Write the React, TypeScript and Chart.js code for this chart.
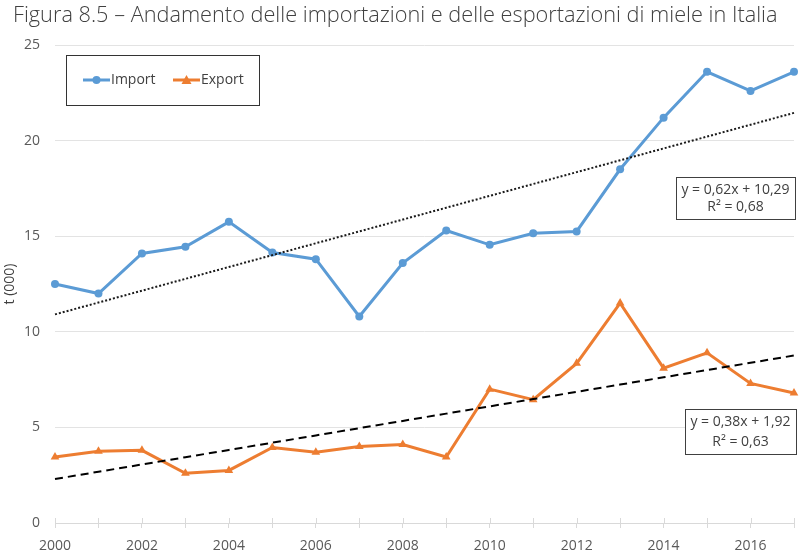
import React, { useEffect, useRef } from 'react';
import { Chart, registerables } from 'chart.js';

Chart.register(...registerables);

const TITLE = 'Figura 8.5 – Andamento delle importazioni e delle esportazioni di miele in Italia';
const Y_TITLE = 't (000)';
const years = ['2000', '2001', '2002', '2003', '2004', '2005', '2006', '2007', '2008', '2009', '2010', '2011', '2012', '2013', '2014', '2015', '2016', '2017'];
const importValues = [12.5, 12.0, 14.1, 14.45, 15.75, 14.15, 13.8, 10.8, 13.6, 15.3, 14.55, 15.15, 15.25, 18.5, 21.2, 23.6, 22.6, 23.6];
const exportValues = [3.45, 3.75, 3.8, 2.6, 2.75, 3.95, 3.7, 4.0, 4.1, 3.45, 7.0, 6.45, 8.35, 11.5, 8.1, 8.9, 7.3, 6.8];
const importTrend = [0.62, 10.29];
const exportTrend = [0.38, 1.92];
const importTrendText = ['y = 0,62x + 10,29', 'R² = 0,68'];
const exportTrendText = ['y = 0,38x + 1,92', 'R² = 0,63'];
const yTicks = [0, 5, 10, 15, 20, 25];

const IMPORT_COLOR = '#5B9BD5';
const EXPORT_COLOR = '#ED7D31';
const FONT = '"Open Sans", sans-serif';
const TEXT_COLOR = '#404040';

const trendOf = (coef: number[]) => years.map((_, i) => coef[0] * (i + 1) + coef[1]);

const decorPlugin = {
  id: 'decor',
  afterDraw(chart: any) {
    const ctx = chart.ctx;
    const area = chart.chartArea;
    const xs = chart.scales.x;
    ctx.save();

    // tick marks above the axis
    ctx.strokeStyle = '#d9d9d9';
    ctx.lineWidth = 1;
    years.forEach((_, i) => {
      const x = Math.round(xs.getPixelForValue(i)) + 0.5;
      ctx.beginPath();
      ctx.moveTo(x, area.bottom - 5);
      ctx.lineTo(x, area.bottom);
      ctx.stroke();
    });

    // title
    ctx.fillStyle = TEXT_COLOR;
    ctx.textBaseline = 'alphabetic';
    ctx.textAlign = 'left';
    ctx.font = `300 20px ${FONT}`;
    const w = ctx.measureText(TITLE).width;
    const size = 20 * 765 / w;
    ctx.font = `300 ${size}px ${FONT}`;
    ctx.fillText(TITLE, 13, 22);

    // legend
    ctx.fillStyle = '#ffffff';
    ctx.fillRect(66, 55, 193, 50);
    ctx.strokeStyle = '#333333';
    ctx.lineWidth = 1;
    ctx.strokeRect(66.5, 55.5, 193, 50);
    const items = [
      { label: 'Import', color: IMPORT_COLOR, x: 83, style: 'circle' },
      { label: 'Export', color: EXPORT_COLOR, x: 173, style: 'triangle' },
    ];
    items.forEach((it) => {
      ctx.strokeStyle = it.color;
      ctx.fillStyle = it.color;
      ctx.lineWidth = 3;
      ctx.beginPath();
      ctx.moveTo(it.x, 80);
      ctx.lineTo(it.x + 27, 80);
      ctx.stroke();
      const cx = it.x + 13.5;
      ctx.beginPath();
      if (it.style === 'circle') {
        ctx.arc(cx, 80, 4, 0, Math.PI * 2);
      } else {
        ctx.moveTo(cx, 75);
        ctx.lineTo(cx + 5, 84);
        ctx.lineTo(cx - 5, 84);
        ctx.closePath();
      }
      ctx.fill();
      ctx.fillStyle = TEXT_COLOR;
      ctx.font = `14px ${FONT}`;
      ctx.textBaseline = 'middle';
      ctx.fillText(it.label, it.x + 28, 80);
    });

    // trend equation boxes
    const boxes = [
      { x: 676, y: 177, w: 119, h: 42, lines: importTrendText, l1: 190, l2: 207 },
      { x: 685, y: 409, w: 111, h: 45, lines: exportTrendText, l1: 422, l2: 442 },
    ];
    boxes.forEach((b) => {
      ctx.fillStyle = '#ffffff';
      ctx.fillRect(b.x, b.y, b.w, b.h);
      ctx.strokeStyle = '#404040';
      ctx.lineWidth = 1;
      ctx.strokeRect(b.x + 0.5, b.y + 0.5, b.w, b.h);
      ctx.fillStyle = TEXT_COLOR;
      ctx.font = `14px ${FONT}`;
      ctx.textAlign = 'center';
      ctx.textBaseline = 'middle';
      const cx = b.x + b.w / 2;
      ctx.fillText(b.lines[0], cx, b.l1);
      ctx.fillText(b.lines[1], cx, b.l2);
    });
    ctx.restore();
  },
};

export default function App() {
  const ref = useRef<HTMLCanvasElement | null>(null);
  useEffect(() => {
    document.body.style.margin = '0';
    if (!ref.current) return;
    const chart = new Chart(ref.current, {
      type: 'line',
      data: {
        labels: years,
        datasets: [
          {
            label: 'Import',
            data: importValues,
            borderColor: IMPORT_COLOR,
            backgroundColor: IMPORT_COLOR,
            borderWidth: 3,
            pointStyle: 'circle',
            pointRadius: 4,
            pointBorderWidth: 0,
            tension: 0,
            clip: false,
            order: 2,
          },
          {
            label: 'Export',
            data: exportValues,
            borderColor: EXPORT_COLOR,
            backgroundColor: EXPORT_COLOR,
            borderWidth: 3,
            pointStyle: 'triangle',
            pointRadius: 5,
            pointBorderWidth: 0,
            tension: 0,
            clip: false,
            order: 2,
          },
          {
            label: 'Lineare (Import)',
            data: trendOf(importTrend),
            borderColor: '#1a1a1a',
            borderWidth: 2,
            borderDash: [2, 2],
            pointRadius: 0,
            order: 1,
          },
          {
            label: 'Lineare (Export)',
            data: trendOf(exportTrend),
            borderColor: '#000000',
            borderWidth: 2,
            borderDash: [8, 5],
            pointRadius: 0,
            order: 1,
          },
        ],
      },
      options: {
        responsive: false,
        animation: false,
        devicePixelRatio: 1,
        layout: { padding: { top: 45, right: 2, left: 0, bottom: 0 } },
        plugins: {
          legend: { display: false },
          title: { display: false },
          tooltip: { enabled: false },
        },
        scales: {
          x: {
            type: 'category',
            offset: false,
            grid: {
              drawOnChartArea: false,
              drawTicks: true,
              tickLength: 5,
              color: '#d9d9d9',
            },
            border: { display: true, color: '#d9d9d9', width: 1 },
            ticks: {
              autoSkip: false,
              maxRotation: 0,
              padding: 10,
              color: '#595959',
              font: { family: FONT, size: 14 },
              callback: (_v: any, i: number) => (i % 2 === 0 ? years[i] : ''),
            },
            afterFit: (s: any) => { s.height = 34; s.paddingRight = 0; s.paddingLeft = 0; },
          },
          y: {
            min: yTicks[0],
            max: yTicks[yTicks.length - 1],
            afterBuildTicks: (s: any) => { s.ticks = yTicks.map((v) => ({ value: v })); },
            grid: { color: '#e3e3e3', drawTicks: false },
            border: { display: false },
            ticks: {
              padding: 15,
              color: '#595959',
              font: { family: FONT, size: 14 },
            },
            title: {
              display: true,
              text: Y_TITLE,
              color: TEXT_COLOR,
              font: { family: FONT, size: 14 },
              padding: { top: 2, bottom: 0 },
            },
            afterFit: (s: any) => { s.width = 55; s.paddingTop = 0; s.paddingBottom = 0; },
          },
        },
      },
      plugins: [decorPlugin],
    });
    return () => chart.destroy();
  }, []);
  return (
    <div style={{ width: 799, height: 557 }}>
      <canvas ref={ref} width={799} height={557} />
    </div>
  );
}
